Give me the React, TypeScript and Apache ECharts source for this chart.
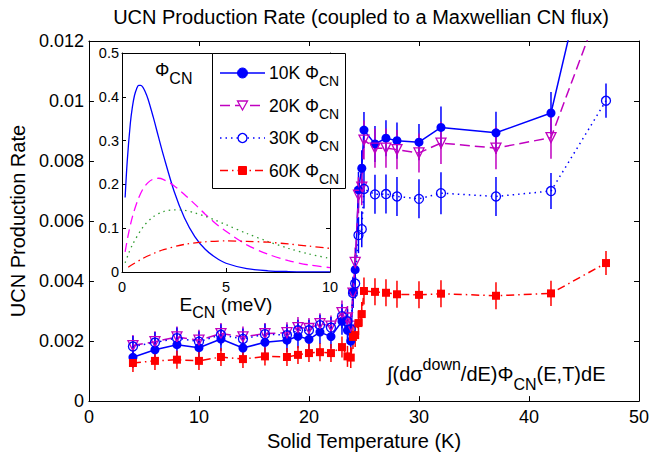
import React, { useEffect, useRef } from "react";
import * as echarts from "echarts";

const FONT = "'Liberation Sans', Arial, Helvetica, sans-serif";
const BLUE = "#0000FF";
const MAGENTA = "#C000C0";
const MAGENTA_CURVE = "#FF00FF";
const GREEN = "#2E9B2E";
const RED = "#FF0000";

// Solid temperature (K) of each measurement
const temperatureK = [4, 6, 8, 10, 12, 14, 16, 18, 19, 20, 21, 22, 23, 23.5, 23.8, 24, 24.2, 24.5, 24.8, 25, 26, 27, 28, 30, 32, 37, 42, 47];

// UCN production rate for each CN flux temperature
const rate10K = [0.00146, 0.00171, 0.00188, 0.00178, 0.00207, 0.00177, 0.00196, 0.00203, 0.00216, 0.00206, 0.0023, 0.00215, 0.00266, 0.00236, 0.002, 0.00364, 0.00438, 0.00704, 0.00776, 0.00903, 0.00857, 0.00876, 0.00868, 0.00863, 0.00912, 0.00894, 0.0096, 0.0174];
const rate20K = [0.00185, 0.00198, 0.00214, 0.00203, 0.00225, 0.00214, 0.00225, 0.00228, 0.00245, 0.00242, 0.00258, 0.0025, 0.00295, 0.00277, 0.0025, 0.0036, 0.00462, 0.00686, 0.00713, 0.0087, 0.00843, 0.00843, 0.00838, 0.00827, 0.0086, 0.00843, 0.00878, 0.0137];
const rate30K = [0.00182, 0.00195, 0.0021, 0.00198, 0.00221, 0.00207, 0.00223, 0.0022, 0.00236, 0.00236, 0.00253, 0.00245, 0.00283, 0.00266, 0.0024, 0.0036, 0.00392, 0.00553, 0.00573, 0.00707, 0.00689, 0.0069, 0.00682, 0.00674, 0.00693, 0.00682, 0.007, 0.01001];
const rate60K = [0.00127, 0.00134, 0.00138, 0.00134, 0.00147, 0.0014, 0.00149, 0.00147, 0.00154, 0.0016, 0.00163, 0.0016, 0.0018, 0.00149, 0.00145, 0.00214, 0.0022, 0.0026, 0.0029, 0.00367, 0.00364, 0.00361, 0.00356, 0.00354, 0.00358, 0.00351, 0.00359, 0.0046];

// Half-widths of the error bars
const err10K = [0.00035, 0.00035, 0.0004, 0.00035, 0.0004, 0.00035, 0.0004, 0.0004, 0.0004, 0.0004, 0.0004, 0.0004, 0.00045, 0.00045, 0.00045, 0.0005, 0.0005, 0.0006, 0.0006, 0.0006, 0.0006, 0.0006, 0.0006, 0.0006, 0.0007, 0.0007, 0.0007, 0.0008];
const err20K = [0.00035, 0.00035, 0.00035, 0.00035, 0.00035, 0.00035, 0.00035, 0.00035, 0.00035, 0.00035, 0.00035, 0.00035, 0.0004, 0.0004, 0.0004, 0.0005, 0.0005, 0.0006, 0.0006, 0.00065, 0.00065, 0.00065, 0.00065, 0.00065, 0.0007, 0.0007, 0.0007, 0.0008];
const err30K = [0.00035, 0.00035, 0.00035, 0.00035, 0.00035, 0.00035, 0.00035, 0.00035, 0.00035, 0.00035, 0.00035, 0.00035, 0.0004, 0.0004, 0.0004, 0.0005, 0.0005, 0.0006, 0.0006, 0.00065, 0.00065, 0.00065, 0.00065, 0.00065, 0.0007, 0.00065, 0.0006, 0.00057];
const err60K = [0.0003, 0.0003, 0.0003, 0.0003, 0.0003, 0.0003, 0.0003, 0.0003, 0.0003, 0.0003, 0.0003, 0.0003, 0.00035, 0.00035, 0.00035, 0.0004, 0.0004, 0.0004, 0.0004, 0.00045, 0.00045, 0.00045, 0.00045, 0.00045, 0.00045, 0.00045, 0.00042, 0.0004];

// Maxwellian CN flux spectra (inset): energy in meV and flux
const energy10K = [0.15, 0.25, 0.4, 0.5, 0.6, 0.7, 0.8, 0.9, 1.0, 1.1, 1.25, 1.5, 1.75, 2.0, 2.5, 3.0, 3.5, 4.0, 4.5, 5, 6, 7, 8, 9, 10];
const flux10K = [0.17, 0.252, 0.339, 0.377, 0.403, 0.418, 0.426, 0.426, 0.422, 0.413, 0.395, 0.354, 0.309, 0.265, 0.185, 0.124, 0.081, 0.052, 0.033, 0.02, 0.0077, 0.0028, 0.001, 0.0003, 0.0001];
const energy20K = [0.15, 0.3, 0.5, 0.75, 1.0, 1.25, 1.5, 1.75, 2.0, 2.5, 3.0, 3.5, 4.0, 4.5, 5, 6, 7, 8, 9, 10];
const flux20K = [0.046, 0.085, 0.126, 0.163, 0.189, 0.204, 0.212, 0.214, 0.211, 0.197, 0.177, 0.155, 0.132, 0.111, 0.093, 0.062, 0.041, 0.026, 0.016, 0.01];
const energy30K = [0.15, 0.3, 0.5, 1.0, 1.5, 2.0, 2.5, 3.0, 3.5, 4.0, 4.5, 5, 6, 7, 8, 9, 10];
const flux30K = [0.021, 0.04, 0.062, 0.102, 0.126, 0.138, 0.142, 0.141, 0.135, 0.127, 0.118, 0.108, 0.088, 0.07, 0.054, 0.041, 0.031];
const energy60K = [0.3, 0.5, 1, 1.5, 2, 3, 4, 5, 6, 7, 8, 9, 10];
const flux60K = [0.011, 0.017, 0.031, 0.042, 0.051, 0.063, 0.069, 0.071, 0.07, 0.068, 0.064, 0.059, 0.054];

const legendLabels = ["10K", "20K", "30K", "60K"];

const pairs = (xs: number[], ys: number[]) => xs.map((x, i) => [x, ys[i]]);
const triples = (xs: number[], ys: number[], es: number[]) => xs.map((x, i) => [x, ys[i], es[i]]);

function errorBars(data: number[][], color: string) {
  return {
    type: "custom",
    xAxisIndex: 0,
    yAxisIndex: 0,
    data,
    clip: true,
    silent: true,
    encode: { x: 0, y: 1 },
    renderItem: (_params: any, api: any) => {
      const x = api.value(0);
      const y = api.value(1);
      const e = api.value(2);
      const lo = api.coord([x, y - e]);
      const hi = api.coord([x, y + e]);
      return {
        type: "line",
        shape: { x1: lo[0], y1: lo[1], x2: hi[0], y2: hi[1] },
        style: { stroke: color, lineWidth: 1.5 },
      };
    },
  };
}

function axisBase(extra: any) {
  return {
    type: "value",
    axisLine: { show: true, onZero: false, lineStyle: { color: "#000", width: 1 } },
    axisTick: { show: true, inside: true, length: 5, lineStyle: { color: "#000", width: 1 } },
    splitLine: { show: false },
    ...extra,
  };
}

const hiddenLabels = { show: false };

function legendItems() {
  const ys = [73, 105.5, 138, 170.5];
  const x1 = 220;
  const x2 = 265;
  const mx = (x1 + x2) / 2;
  const items: any[] = [
    {
      type: "rect",
      shape: { x: 212.5, y: 53.5, width: 133, height: 135 },
      style: { fill: "#fff", stroke: "#000", lineWidth: 1 },
      z: 100,
    },
  ];
  const lineStyles = [
    { stroke: BLUE, lineWidth: 1.5 },
    { stroke: MAGENTA, lineWidth: 1.5, lineDash: [10, 5] },
    { stroke: BLUE, lineWidth: 1.5, lineDash: [1.5, 4] },
    { stroke: RED, lineWidth: 1.5, lineDash: [8, 4, 1.5, 4] },
  ];
  ys.forEach((y, i) => {
    items.push({ type: "line", shape: { x1, y1: y, x2, y2: y }, style: lineStyles[i], z: 101 });
    items.push({
      type: "text",
      x: 269,
      y,
      style: {
        text: legendLabels[i] + " \u03A6{s|CN}",
        fontSize: 17.5,
        fontFamily: FONT,
        fill: "#000",
        textAlign: "left",
        textVerticalAlign: "middle",
        align: "left",
        verticalAlign: "middle",
        rich: { s: { fontSize: 14, fontFamily: FONT, fill: "#000", padding: [16, 0, 0, 0] } },
      },
      z: 101,
    });
  });
  items.push({ type: "circle", shape: { cx: mx, cy: ys[0], r: 5 }, style: { fill: BLUE, stroke: BLUE }, z: 102 });
  items.push({
    type: "polygon",
    shape: { points: [[mx - 5, ys[1] - 4.5], [mx + 5, ys[1] - 4.5], [mx, ys[1] + 4.5]] },
    style: { fill: "#fff", stroke: MAGENTA, lineWidth: 1.3 },
    z: 102,
  });
  items.push({ type: "circle", shape: { cx: mx, cy: ys[2], r: 4.5 }, style: { fill: "#fff", stroke: BLUE, lineWidth: 1.3 }, z: 102 });
  items.push({ type: "rect", shape: { x: mx - 4, y: ys[3] - 4, width: 8, height: 8 }, style: { fill: RED, stroke: RED }, z: 102 });
  return items;
}

function buildOption(): any {
  return {
    animation: false,
    backgroundColor: "#fff",
    textStyle: { fontFamily: FONT, color: "#000" },
    grid: [
      { left: 86, right: 25, top: 41, bottom: 48, show: false },
      { left: 122, top: 53, width: 208, height: 219, show: true, backgroundColor: "#fff", borderWidth: 0, z: 5 },
    ],
    xAxis: [
      axisBase({
        gridIndex: 0,
        position: "bottom",
        min: 0,
        max: 50,
        interval: 10,
        axisLabel: { color: "#000", fontSize: 18, margin: 7, fontFamily: FONT },
        name: "Solid Temperature (K)",
        nameLocation: "middle",
        nameGap: 23,
        nameTextStyle: { color: "#000", fontSize: 20, fontFamily: FONT },
      }),
      axisBase({ gridIndex: 0, position: "top", min: 0, max: 50, interval: 10, axisLabel: hiddenLabels }),
      axisBase({
        gridIndex: 1,
        position: "bottom",
        min: 0,
        max: 10,
        interval: 5,
        z: 6,
        axisTick: { show: true, inside: true, length: 4, lineStyle: { color: "#000" } },
        axisLabel: { color: "#000", fontSize: 14.5, margin: 7, fontFamily: FONT },
        name: "E{s|CN} (meV)",
        nameLocation: "middle",
        nameGap: 15,
        nameTextStyle: {
          color: "#000",
          fontSize: 19,
          fontFamily: FONT,
          rich: { s: { fontSize: 16, fontFamily: FONT, color: "#000", padding: [16, 0, 0, 0] } },
        },
      }),
      axisBase({
        gridIndex: 1,
        position: "top",
        min: 0,
        max: 10,
        interval: 5,
        z: 6,
        axisTick: { show: true, inside: true, length: 4, lineStyle: { color: "#000" } },
        axisLabel: hiddenLabels,
      }),
    ],
    yAxis: [
      axisBase({
        gridIndex: 0,
        position: "left",
        min: 0,
        max: 0.012,
        interval: 0.002,
        axisLabel: {
          color: "#000",
          fontSize: 18,
          margin: 5,
          fontFamily: FONT,
          formatter: (v: number) => (v === 0 ? "0" : String(parseFloat(v.toFixed(4)))),
        },
        name: "UCN Production Rate",
        nameLocation: "middle",
        nameGap: 52,
        nameTextStyle: { color: "#000", fontSize: 20, fontFamily: FONT },
      }),
      axisBase({ gridIndex: 0, position: "right", min: 0, max: 0.012, interval: 0.002, axisLabel: hiddenLabels }),
      axisBase({
        gridIndex: 1,
        position: "left",
        min: 0,
        max: 0.5,
        interval: 0.1,
        z: 6,
        axisTick: { show: true, inside: true, length: 4, lineStyle: { color: "#000" } },
        axisLabel: {
          color: "#000",
          fontSize: 14.5,
          margin: 3,
          fontFamily: FONT,
          formatter: (v: number) => (v === 0 ? "0" : String(parseFloat(v.toFixed(2)))),
        },
      }),
      axisBase({
        gridIndex: 1,
        position: "right",
        min: 0,
        max: 0.5,
        interval: 0.1,
        z: 6,
        axisTick: { show: true, inside: true, length: 4, lineStyle: { color: "#000" } },
        axisLabel: hiddenLabels,
      }),
    ],
    series: [
      errorBars(triples(temperatureK, rate10K, err10K), BLUE),
      {
        type: "line",
        name: "10K",
        xAxisIndex: 0,
        yAxisIndex: 0,
        data: pairs(temperatureK, rate10K),
        clip: true,
        symbol: "circle",
        symbolSize: 9,
        lineStyle: { color: BLUE, width: 1.5 },
        itemStyle: { color: BLUE, borderColor: BLUE, borderWidth: 0 },
      },
      errorBars(triples(temperatureK, rate20K, err20K), MAGENTA),
      {
        type: "line",
        name: "20K",
        xAxisIndex: 0,
        yAxisIndex: 0,
        data: pairs(temperatureK, rate20K),
        clip: true,
        symbol: "triangle",
        symbolRotate: 180,
        symbolSize: 10,
        lineStyle: { color: MAGENTA, width: 1.5, type: [10, 5] },
        itemStyle: { color: "rgba(0,0,0,0)", borderColor: MAGENTA, borderWidth: 1.3 },
      },
      errorBars(triples(temperatureK, rate30K, err30K), BLUE),
      {
        type: "line",
        name: "30K",
        xAxisIndex: 0,
        yAxisIndex: 0,
        data: pairs(temperatureK, rate30K),
        clip: true,
        symbol: "circle",
        symbolSize: 9,
        lineStyle: { color: BLUE, width: 1.5, type: [1.5, 4] },
        itemStyle: { color: "rgba(0,0,0,0)", borderColor: BLUE, borderWidth: 1.3 },
      },
      errorBars(triples(temperatureK, rate60K, err60K), RED),
      {
        type: "line",
        name: "60K",
        xAxisIndex: 0,
        yAxisIndex: 0,
        data: pairs(temperatureK, rate60K),
        clip: true,
        symbol: "rect",
        symbolSize: 8,
        lineStyle: { color: RED, width: 1.5, type: [8, 4, 1.5, 4] },
        itemStyle: { color: RED, borderColor: RED, borderWidth: 0 },
      },
      {
        type: "line",
        xAxisIndex: 2,
        yAxisIndex: 2,
        data: pairs(energy10K, flux10K),
        showSymbol: false,
        smooth: 0.3,
        z: 6,
        lineStyle: { color: BLUE, width: 1.3 },
      },
      {
        type: "line",
        xAxisIndex: 2,
        yAxisIndex: 2,
        data: pairs(energy20K, flux20K),
        showSymbol: false,
        smooth: 0.3,
        z: 6,
        lineStyle: { color: MAGENTA_CURVE, width: 1.3, type: [9, 5] },
      },
      {
        type: "line",
        xAxisIndex: 2,
        yAxisIndex: 2,
        data: pairs(energy30K, flux30K),
        showSymbol: false,
        smooth: 0.3,
        z: 6,
        lineStyle: { color: GREEN, width: 1.3, type: [1.5, 4] },
      },
      {
        type: "line",
        xAxisIndex: 2,
        yAxisIndex: 2,
        data: pairs(energy60K, flux60K),
        showSymbol: false,
        smooth: 0.3,
        z: 6,
        lineStyle: { color: RED, width: 1.3, type: [8, 4, 1.5, 4] },
      },
    ],
    graphic: [
      {
        type: "text",
        x: 361,
        y: 17,
        z: 100,
        style: {
          text: "UCN Production Rate (coupled to a Maxwellian CN flux)",
          fontSize: 20,
          fontFamily: FONT,
          fill: "#000",
          textAlign: "center",
          textVerticalAlign: "middle",
          align: "center",
          verticalAlign: "middle",
        },
      },
      {
        type: "text",
        x: 155,
        y: 70,
        z: 100,
        style: {
          text: "\u03A6{s|CN}",
          fontSize: 18,
          fontFamily: FONT,
          fill: "#000",
          textAlign: "left",
          textVerticalAlign: "middle",
          align: "left",
          verticalAlign: "middle",
          rich: { s: { fontSize: 16, fontFamily: FONT, fill: "#000", padding: [16, 0, 0, 0] } },
        },
      },
      {
        type: "text",
        x: 387,
        y: 374,
        z: 100,
        style: {
          text: "\u222B(d\u03C3{sup|down}/dE)\u03A6{sub|CN}(E,T)dE",
          fontSize: 20,
          fontFamily: FONT,
          fill: "#000",
          textAlign: "left",
          textVerticalAlign: "middle",
          align: "left",
          verticalAlign: "middle",
          rich: {
            sup: { fontSize: 16, fontFamily: FONT, fill: "#000", padding: [0, 0, 20, 0] },
            sub: { fontSize: 16, fontFamily: FONT, fill: "#000", padding: [20, 0, 0, 0] },
          },
        },
      },
      ...legendItems(),
    ],
  };
}

export default function App() {
  const ref = useRef<HTMLDivElement>(null);
  useEffect(() => {
    if (!ref.current) return;
    const chart = echarts.init(ref.current, undefined, { renderer: "svg" });
    chart.setOption(buildOption());
    return () => chart.dispose();
  }, []);
  return (
    <div
      ref={ref}
      style={{ position: "fixed", left: 0, top: 0, width: 664, height: 456, background: "#fff" }}
    />
  );
}
